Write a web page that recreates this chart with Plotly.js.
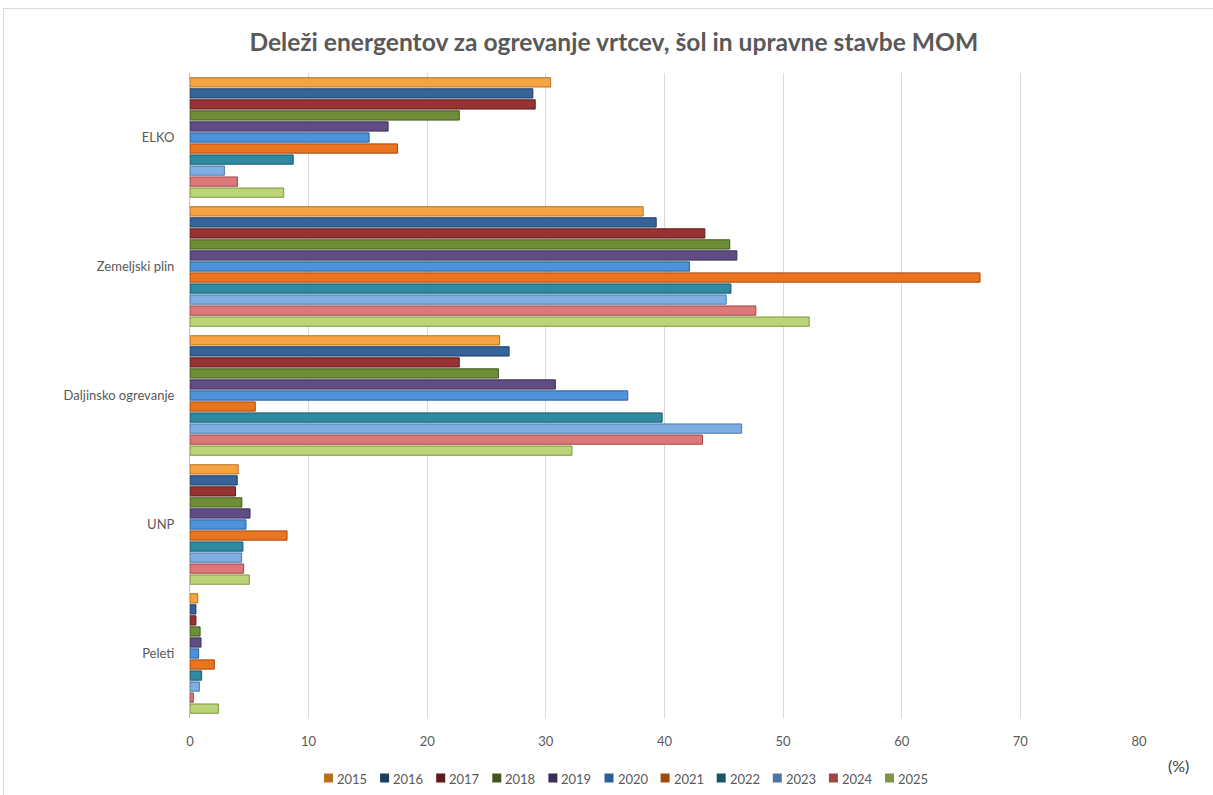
<!DOCTYPE html>
<html>
<head>
<meta charset="utf-8">
<script src="https://cdn.plot.ly/plotly-3.0.1.min.js"></script>
<style>
html,body{margin:0;padding:0;background:#fff;}
#wrap{position:absolute;left:3px;top:8px;width:1215px;height:795px;border:1px solid #d9d9d9;box-sizing:border-box;}
#chart{position:absolute;left:0;top:0;width:1213px;height:795px;}
</style>
</head>
<body>
<div id="wrap"></div>
<div id="chart"></div>
<script>
const categories = ["ELKO", "Zemeljski plin", "Daljinsko ogrevanje", "UNP", "Peleti"];
const years = ["2015","2016","2017","2018","2019","2020","2021","2022","2023","2024","2025"];

const v2015 = [30.4, 38.2, 26.1, 4.06, 0.65];
const v2016 = [28.9, 39.3, 26.9, 3.98, 0.5];
const v2017 = [29.1, 43.4, 22.7, 3.83, 0.5];
const v2018 = [22.7, 45.5, 26.0, 4.37, 0.85];
const v2019 = [16.7, 46.1, 30.8, 5.06, 0.93];
const v2020 = [15.1, 42.1, 36.9, 4.72, 0.73];
const v2021 = [17.5, 66.6, 5.5, 8.18, 2.05];
const v2022 = [8.7, 45.6, 39.8, 4.46, 0.98];
const v2023 = [2.9, 45.2, 46.5, 4.35, 0.79];
const v2024 = [4.0, 47.7, 43.2, 4.52, 0.28];
const v2025 = [7.9, 52.2, 32.2, 5.0, 2.39];

const seriesValues = [v2015, v2016, v2017, v2018, v2019, v2020, v2021, v2022, v2023, v2024, v2025];
const fillColors = ["#F6A343","#35639A","#973333","#6E8F38","#614D85","#4D93DC","#EA7420","#2E8AA0","#7EAEE3","#DE7878","#BCD477"];
const lineColors = ["#B8701E","#1E3D63","#5E1818","#42571E","#3B2C56","#2A5F98","#A24A0C","#1A5666","#4C78A8","#9E4646","#7E9640"];

const traces = years.map((yr, i) => ({
  type: "bar",
  orientation: "h",
  name: yr,
  y: categories,
  x: seriesValues[i],
  marker: {color: fillColors[i], line: {color: lineColors[i], width: 1}},
  hoverinfo: "x+name",
  showlegend: false
}));

const FONT = "Lato, 'Open Sans', sans-serif";

// plot-area geometry (pixels) used to place the custom legend
const M = {l: 190, r: 74, t: 73, b: 77};
const PW = 1213 - M.l - M.r, PH = 795 - M.t - M.b;
const px2x = p => (p - M.l) / PW;
const px2y = p => (795 - M.b - p) / PH;

const legendShapes = [];
const legendAnns = [];
years.forEach((yr, i) => {
  const sx = 324 + 56.1 * i;
  legendShapes.push({
    type: "rect", xref: "paper", yref: "paper",
    x0: px2x(sx), x1: px2x(sx + 9), y0: px2y(782.5), y1: px2y(773.5),
    fillcolor: lineColors[i], line: {width: 0}
  });
  legendAnns.push({
    text: yr, xref: "paper", yref: "paper",
    x: px2x(sx + 11), y: px2y(778.5),
    xanchor: "left", yanchor: "middle", showarrow: false,
    font: {family: FONT, size: 13, color: "#595959"}
  });
});

const layout = {
  width: 1213,
  height: 795,
  paper_bgcolor: "rgba(0,0,0,0)",
  plot_bgcolor: "rgba(0,0,0,0)",
  margin: M,
  title: {
    text: "<b>Deleži energentov za ogrevanje vrtcev, šol in upravne stavbe MOM</b>",
    font: {family: FONT, size: 24.6, color: "#595959"},
    x: 0.506, xref: "container", xanchor: "center",
    y: 0.947, yref: "container", yanchor: "middle"
  },
  barmode: "group",
  bargap: 0.06,
  bargroupgap: 0.16,
  xaxis: {
    range: [0, 80],
    tickvals: [0,10,20,30,40,50,60,70,80],
    showgrid: true,
    gridcolor: "#d9d9d9",
    gridwidth: 1,
    zeroline: false,
    showline: false,
    ticks: "",
    tickfont: {family: FONT, size: 13, color: "#595959"},
    ticklabelstandoff: 14
  },
  yaxis: {
    autorange: "reversed",
    showgrid: false,
    zeroline: false,
    showline: true,
    linecolor: "#bfbfbf",
    linewidth: 1,
    ticks: "",
    ticklabelstandoff: 12,
    tickfont: {family: FONT, size: 13, color: "#595959"}
  },
  shapes: legendShapes,
  annotations: [{
    text: "(%)",
    xref: "paper", yref: "paper",
    x: px2x(1178), y: px2y(765),
    xanchor: "center", yanchor: "middle",
    showarrow: false,
    font: {family: FONT, size: 16, color: "#404040"}
  }].concat(legendAnns),
  showlegend: false
};

Plotly.newPlot("chart", traces, layout, {displayModeBar: false, staticPlot: true});
</script>
</body>
</html>
